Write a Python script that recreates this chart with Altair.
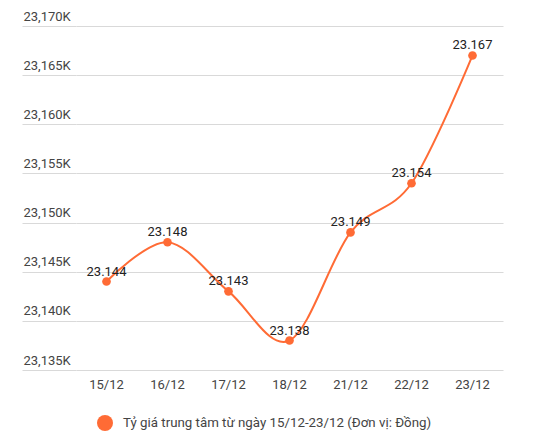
import altair as alt
import pandas as pd

dates = ["15/12", "16/12", "17/12", "18/12", "21/12", "22/12", "23/12"]
rates = [23144, 23148, 23143, 23138, 23149, 23154, 23167]
labels = ["23.144", "23.148", "23.143", "23.138", "23.149", "23.154", "23.167"]
series = "Tỷ giá trung tâm từ ngày 15/12-23/12 (Đơn vị: Đồng)"

df = pd.DataFrame({"date": dates, "rate": rates, "label": labels, "series": series})

ORANGE = "#FF6B35"
FONT = "Roboto"

x = alt.X("date:N", sort=dates, title=None,
          scale=alt.Scale(type="band", paddingInner=0, paddingOuter=0),
          axis=alt.Axis(labelAngle=0, domain=False, ticks=False, labelPadding=8,
                        labelFontSize=13, labelColor="#444", labelFont=FONT))
y = alt.Y("rate:Q", title=None,
          scale=alt.Scale(domain=[23135, 23170], nice=False, zero=False),
          axis=alt.Axis(values=[23135, 23140, 23145, 23150, 23155, 23160, 23165, 23170],
                        labelExpr="format(datum.value, ',') + 'K'",
                        domain=False, grid=True, gridColor="#d9d9d9",
                        ticks=True, tickSize=54, tickColor="#d9d9d9",
                        labelAlign="left", labelBaseline="bottom",
                        labelPadding=-1, labelOffset=-3,
                        labelFontSize=13, labelColor="#444", labelFont=FONT))

base = alt.Chart(df).encode(x=x, y=y)

line = base.mark_line(interpolate="cardinal", color=ORANGE, strokeWidth=2)
points = base.mark_circle(size=75, opacity=1).encode(
    color=alt.Color("series:N", scale=alt.Scale(range=[ORANGE]),
                    legend=alt.Legend(title=None, orient="none", legendX=20, legendY=388,
                                      symbolType="circle", symbolSize=256, labelOffset=9,
                                      labelFontSize=13.3, labelColor="#444", labelFont=FONT,
                                      labelLimit=400, padding=0))
)
text = base.mark_text(baseline="bottom", dy=-3, fontSize=13, color="#222", font=FONT).encode(
    text="label:N"
)

chart = (line + points + text).properties(
    width=427, height=344,
    autosize=alt.AutoSizeParams(type="none"),
    padding={"left": 68, "top": 18, "right": 20, "bottom": 66},
).configure_view(stroke=None)

chart.save("out.html", embed_options={"renderer": "svg", "actions": False})
